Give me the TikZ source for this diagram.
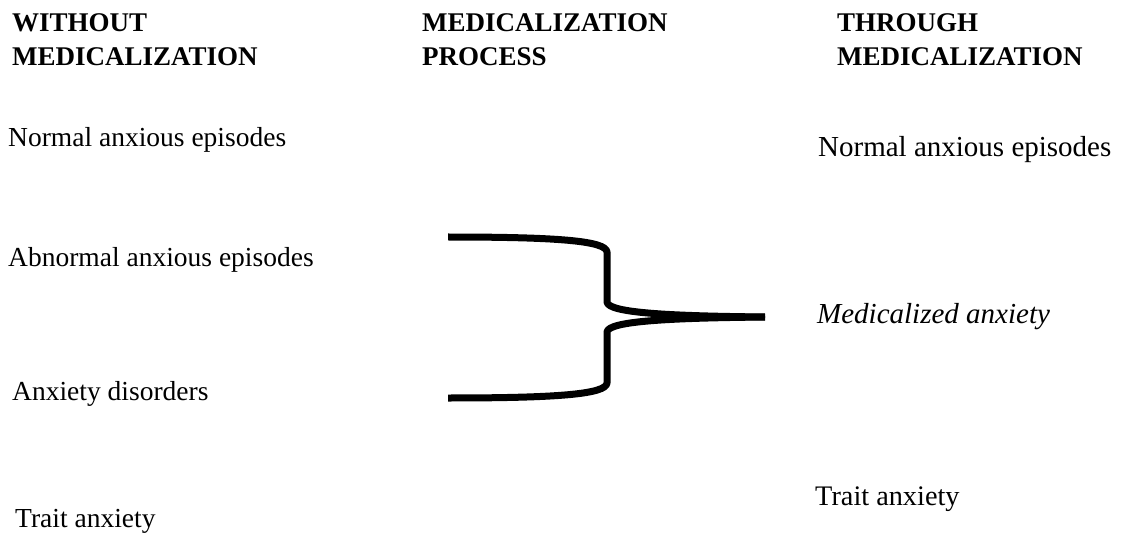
\documentclass[tikz,border=0pt]{standalone}
\usepackage{fontspec}
\setmainfont{Liberation Serif}
\usetikzlibrary{positioning}

\begin{document}
\begin{tikzpicture}[x=1pt, y=-1pt,
    head/.style={font=\fontsize{27}{34}\selectfont\bfseries, align=left, anchor=north west, inner sep=0pt},
    leftitem/.style={font=\fontsize{27.5}{33}\selectfont, anchor=base west, inner sep=0pt},
    rightitem/.style={font=\fontsize{29}{33}\selectfont, anchor=base west, inner sep=0pt},
    brace/.style={line width=7pt, line join=round}]
  \useasboundingbox (0,0) rectangle (1121,537);
  % --- column headings ---
  \node[head] (hWithout) at (12,13) {WITHOUT\\MEDICALIZATION};
  \node[head] (hProcess) at (422,13) {MEDICALIZATION\\PROCESS};
  \node[head] (hThrough) at (837,13) {THROUGH\\MEDICALIZATION};
  % --- without medicalization ---
  \node[leftitem] (wNormal) at (8,147) {Normal anxious episodes};
  \node[leftitem] (wAbnormal) at (8,267) {Abnormal anxious episodes};
  \node[leftitem] (wDisorders) at (12,400) {Anxiety disorders};
  \node[leftitem] (wTrait) at (15,527) {Trait anxiety};
  % --- through medicalization ---
  \node[rightitem] (tNormal) at (818,157) {Normal anxious episodes};
  \node[rightitem] (tMedical) at (817,323) {\itshape Medicalized anxiety};
  \node[rightitem, font=\fontsize{28.3}{33}\selectfont] (tTrait) at (815,505) {Trait anxiety};
  % --- the brace ---
  \coordinate (tip) at (765,317);
  \draw[brace] (448,237) .. controls (560,237) and (606,241) .. (607,252)
    -- (607,302) .. controls (608,313) and (670,316) .. (tip);
  \draw[brace] (448,398) .. controls (560,398) and (606,394) .. (607,383)
    -- (607,332) .. controls (608,321) and (670,318) .. (tip);
\end{tikzpicture}
\end{document}
